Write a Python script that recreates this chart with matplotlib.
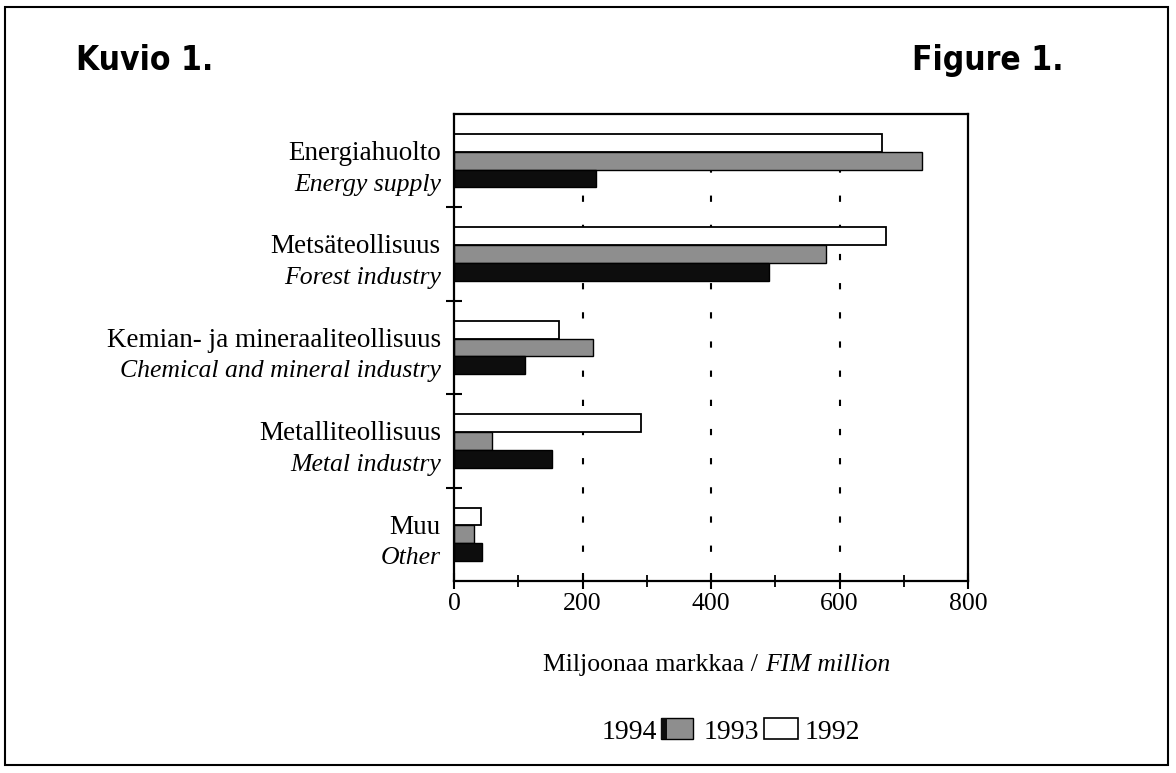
import numpy as np
import matplotlib.pyplot as plt
from matplotlib.patches import Rectangle
from matplotlib.ticker import MultipleLocator

plt.rcParams['font.family'] = ['Liberation Serif', 'DejaVu Serif']

categories_fi = ['Energiahuolto', 'Metsäteollisuus', 'Kemian- ja mineraaliteollisuus',
                 'Metalliteollisuus', 'Muu']
categories_en = ['Energy supply', 'Forest industry', 'Chemical and mineral industry',
                 'Metal industry', 'Other']
v1992 = [666, 673, 163, 291, 42]
v1993 = [728, 579, 216, 59, 31]
v1994 = [221, 490, 110, 152, 44]
xticks = [0, 200, 400, 600, 800]

W, H = 1176, 773
fig = plt.figure(figsize=(W / 100, H / 100), dpi=100)
ax = fig.add_axes([454 / W, 1 - 581 / H, (968 - 454) / W, (581 - 114) / H])

y = np.arange(len(categories_fi))
h = 0.19
ax.barh(y - h, v1992, height=h, color='white', edgecolor='black', linewidth=1.3)
ax.barh(y, v1993, height=h, color='#8e8e8e', edgecolor='black', linewidth=1.0)
ax.barh(y + h, v1994, height=h, color='#0d0d0d', edgecolor='black', linewidth=1.0)

ax.set_xlim(0, 800)
ax.set_ylim(len(categories_fi) - 0.5, -0.5)
ax.set_xticks(xticks)
ax.set_xticklabels([str(t) for t in xticks], fontsize=18.5)
ax.xaxis.set_minor_locator(MultipleLocator(100))
ax.set_yticks(y[:-1] + 0.5)
ax.set_yticklabels([])
ax.tick_params(axis='x', which='major', direction='inout', length=12, width=1.5, pad=3)
ax.tick_params(axis='x', which='minor', direction='inout', length=9, width=1.3)
ax.tick_params(axis='y', direction='inout', length=12, width=1.5)
for s in ax.spines.values():
    s.set_linewidth(1.6)

for gx in xticks[1:-1]:
    ax.axvline(gx, color='black', lw=1.5, linestyle=(0, (3, 11)), zorder=0)

for i in range(len(categories_fi)):
    ax.annotate(categories_fi[i], xy=(0, i), xycoords=('axes fraction', 'data'),
                xytext=(-9.5, 0.5), textcoords='offset points', ha='right', va='baseline',
                fontsize=19.5)
    ax.annotate(categories_en[i], xy=(0, i), xycoords=('axes fraction', 'data'),
                xytext=(-9.5, -21.5), textcoords='offset points', ha='right', va='baseline',
                fontsize=18.5, style='italic')

# x-axis title, roman + italic parts
fig.text(758 / W, 1 - 671 / H, 'Miljoonaa markkaa /', ha='right', va='baseline', fontsize=18.5)
fig.text(765 / W, 1 - 671 / H, 'FIM million', ha='left', va='baseline', fontsize=18.5,
         style='italic')

# legend as drawn in the original
ly = 1 - 739 / H
fig.text(602 / W, ly, '1994', ha='left', va='baseline', fontsize=20)
fig.text(704 / W, ly, '1993', ha='left', va='baseline', fontsize=20)
fig.text(805 / W, ly, '1992', ha='left', va='baseline', fontsize=20)
fig.add_artist(Rectangle((661 / W, 1 - 739 / H), 32 / W, 21 / H, transform=fig.transFigure,
                         facecolor='#8e8e8e', edgecolor='black', lw=1))
fig.add_artist(Rectangle((661 / W, 1 - 739 / H), 6 / W, 21 / H, transform=fig.transFigure,
                         facecolor='#0d0d0d', edgecolor='none'))
fig.add_artist(Rectangle((764 / W, 1 - 739 / H), 34 / W, 21 / H, transform=fig.transFigure,
                         facecolor='white', edgecolor='black', lw=1.2))

# headings
hfont = ['DejaVu Sans', 'Liberation Sans']
fig.text(76 / W, 1 - 70 / H, 'Kuvio 1.', ha='left', va='baseline', fontsize=24,
         fontweight='bold', fontstretch='condensed', family=hfont)
fig.text(1064 / W, 1 - 70 / H, 'Figure 1.', ha='right', va='baseline', fontsize=24,
         fontweight='bold', fontstretch='condensed', family=hfont)

# outer frame
fig.add_artist(Rectangle((5 / W, 1 - 765 / H), (1168 - 5) / W, (765 - 7) / H,
                         transform=fig.transFigure, facecolor='none', edgecolor='black', lw=1.5))

fig.savefig('out.png', dpi=100)
